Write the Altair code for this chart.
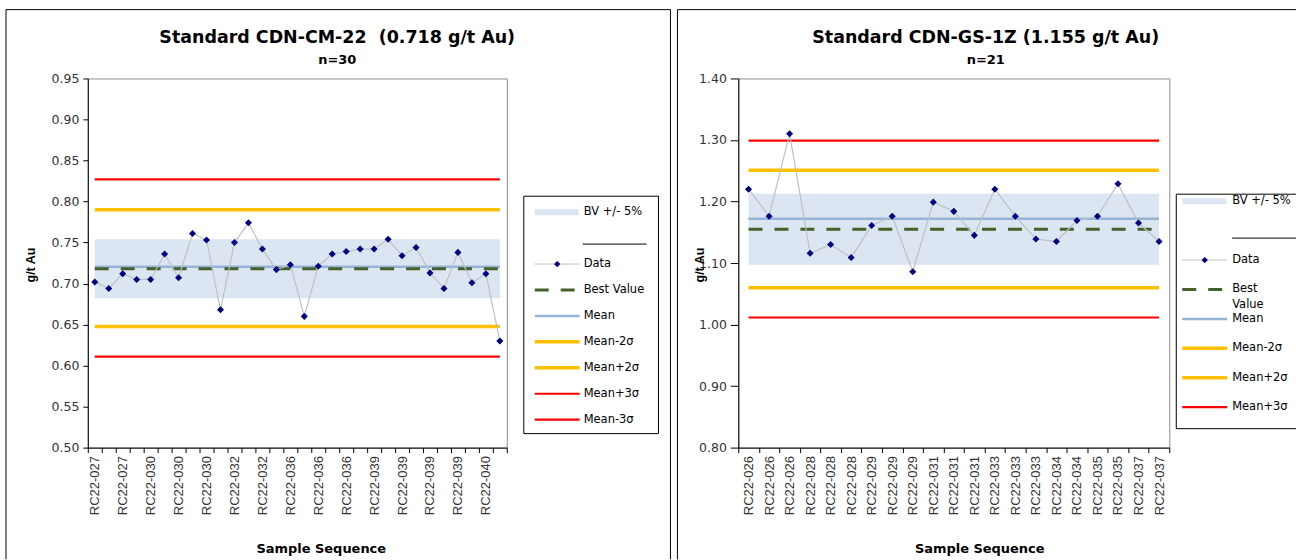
import json
import altair as alt
import pandas as pd

# ---------------- CDN-CM-22 : 30 control results ----------------
cm22_results = [0.702, 0.694, 0.712, 0.705, 0.705, 0.736, 0.707, 0.761, 0.753, 0.668,
                0.750, 0.774, 0.742, 0.717, 0.723, 0.660, 0.721, 0.736, 0.739, 0.742,
                0.742, 0.754, 0.734, 0.744, 0.713, 0.694, 0.738, 0.701, 0.712, 0.630]
# hole IDs printed under every second result
cm22_sample_ids = ["RC22-027", "RC22-027", "RC22-030", "RC22-030", "RC22-030",
                   "RC22-032", "RC22-032", "RC22-036", "RC22-036", "RC22-036",
                   "RC22-039", "RC22-039", "RC22-039", "RC22-039", "RC22-040"]
cm22_best_value = 0.718
cm22_mean = 0.7205
cm22_minus_2sd = 0.6475
cm22_plus_2sd = 0.790
cm22_plus_3sd = 0.827
cm22_minus_3sd = 0.611
cm22_y_ticks = [0.50, 0.55, 0.60, 0.65, 0.70, 0.75, 0.80, 0.85, 0.90, 0.95]

# ---------------- CDN-GS-1Z : 21 control results ----------------
gs1z_results = [1.220, 1.176, 1.310, 1.116, 1.130, 1.109, 1.161, 1.176, 1.086, 1.199,
                1.184, 1.145, 1.220, 1.176, 1.139, 1.135, 1.169, 1.176, 1.229, 1.165,
                1.135]
gs1z_sample_ids = ["RC22-026", "RC22-026", "RC22-026", "RC22-028", "RC22-028", "RC22-028",
                   "RC22-029", "RC22-029", "RC22-029", "RC22-031", "RC22-031", "RC22-031",
                   "RC22-033", "RC22-033", "RC22-033", "RC22-034", "RC22-034", "RC22-035",
                   "RC22-035", "RC22-037", "RC22-037"]
gs1z_best_value = 1.155
gs1z_mean = 1.172
gs1z_minus_2sd = 1.060
gs1z_plus_2sd = 1.251
gs1z_plus_3sd = 1.299
gs1z_minus_3sd = 1.0115
gs1z_y_ticks = [0.80, 0.90, 1.00, 1.10, 1.20, 1.30, 1.40]

# ---------------- styling ----------------
FONT = "DejaVu Sans"
ROT_FONT = "Liberation Sans"
TEXT = "#333333"
BAND = "#DCE6F2"
DATA_LINE = "#C0C0C0"
DATA_POINT = "#000080"
PLOT_H = 370
STYLES = {
    "Mean+3σ": dict(color="#FF0000", strokeWidth=2.2),
    "Mean-3σ": dict(color="#FF0000", strokeWidth=2.2),
    "Mean+2σ": dict(color="#FFC000", strokeWidth=3.5),
    "Mean-2σ": dict(color="#FFC000", strokeWidth=3.5),
    "Mean": dict(color="#95B3D7", strokeWidth=2.5),
    "Best Value": dict(color="#44612A", strokeWidth=3, strokeDash=[14, 12]),
}

ONE = alt.Data(values=[{"k": 0}])


def text_layer(txt, x, y, size, bold=False, angle=0, align="center", font=FONT):
    kw = dict(font=font, fontSize=size, color="black", align=align, baseline="middle")
    if bold:
        kw["fontWeight"] = "bold"
    if angle:
        kw["angle"] = angle
    return alt.Chart(ONE).mark_text(**kw).encode(
        x=alt.value(x), y=alt.value(y), text=alt.value(txt))


def hrule(x0, x1, y, **style):
    return alt.Chart(ONE).mark_rule(**style).encode(
        x=alt.value(x0), x2=alt.value(x1), y=alt.value(y))


def vrule(x, y0, y1, **style):
    return alt.Chart(ONE).mark_rule(**style).encode(
        x=alt.value(x), y=alt.value(y0), y2=alt.value(y1))


def panel(results, sample_ids, label_every, levels, best, y_ticks, title, subtitle,
          width, lay):
    n = len(results)
    df = pd.DataFrame({"seq": list(range(1, n + 1)), "au": results})

    xs = alt.Scale(domain=[0.5, n + 0.5], nice=False, zero=False)
    ys = alt.Scale(domain=[y_ticks[0], y_ticks[-1]], nice=False, zero=False)
    ids = json.dumps(sample_ids)
    if label_every == 2:
        label_expr = f"datum.value % 2 == 1 ? {ids}[(datum.value - 1) / 2] : ''"
    else:
        label_expr = f"datum.value % 1 == 0 ? {ids}[datum.value - 1] : ''"
    # ticks on category boundaries, labels on category centres
    x_values = [k / 2 for k in range(1, 2 * n + 2)]
    x_axis = alt.Axis(values=x_values, labelExpr=label_expr, labelAngle=270,
                      labelOverlap=False, labelFlush=False, labelBound=False,
                      tickOpacity={"condition": {"test": "datum.value % 1 != 0", "value": 1},
                                   "value": 0},
                      tickSize=5, tickColor="black", domainColor="black",
                      labelFont=ROT_FONT, labelFontSize=13, labelColor=TEXT,
                      labelPadding=3, grid=False, title=None)
    y_axis = alt.Axis(values=y_ticks, format=".2f", tickSize=lay["ytick"],
                      tickColor="black", domainColor="black", labelFont=FONT,
                      labelFontSize=12.5, labelColor=TEXT, labelPadding=lay["ypad"],
                      grid=False, title=None)

    def X(**kw):
        return alt.X(type="quantitative", scale=xs, axis=x_axis, **kw)

    def Y(**kw):
        return alt.Y(type="quantitative", scale=ys, axis=y_axis, **kw)

    layers = []
    # best value +/- 5 % band
    layers.append(alt.Chart(ONE).mark_rect(color=BAND).encode(
        x=X(datum=1), x2=alt.X2(datum=n),
        y=Y(datum=best * 0.95), y2=alt.Y2(datum=best * 1.05)))
    # control limits, mean and best value
    for name, value in levels:
        layers.append(alt.Chart(ONE).mark_rule(strokeCap="butt", **STYLES[name]).encode(
            x=X(datum=1), x2=alt.X2(datum=n), y=Y(datum=value)))
    # results
    layers.append(alt.Chart(df).mark_line(color=DATA_LINE, strokeWidth=1.2).encode(
        x=X(field="seq"), y=Y(field="au")))
    layers.append(alt.Chart(df).mark_point(shape="diamond", filled=True, opacity=1,
                                           color=DATA_POINT, size=50).encode(
        x=X(field="seq"), y=Y(field="au")))

    # outer frame of the panel
    fl, ft, fr, fb = lay["frame"]
    frame = dict(color="black", strokeWidth=1)
    layers.append(hrule(fl, fr, ft, **frame))
    layers.append(vrule(fl, ft, fb, **frame))
    if lay["frame_right"]:
        layers.append(vrule(fr, ft, fb, **frame))

    # titles
    cx = lay["title_x"]
    layers.append(text_layer(title, cx, -41, 17.5, bold=True))
    layers.append(text_layer(subtitle, cx, -19, 13, bold=True))
    layers.append(text_layer("Sample Sequence", lay["xtitle_x"], 472, 13, bold=True))
    layers.append(text_layer("g/t Au", lay["ytitle_x"], 187, 12.5, bold=True,
                             angle=270, font=ROT_FONT))

    # legend
    bl, bt, br, bb = lay["box"]
    if lay["box_closed"]:
        layers.append(alt.Chart(ONE).mark_rect(fill="white", stroke="black", strokeWidth=1)
                      .encode(x=alt.value(bl), x2=alt.value(br), y=alt.value(bt),
                              y2=alt.value(bb)))
    else:
        layers.append(hrule(bl, br, bt, **frame))
        layers.append(hrule(bl, br, bb, **frame))
        layers.append(vrule(bl, bt, bb, **frame))
    s0, s1 = lay["sym"]
    tx = lay["text_x"]
    lsize = 11.5
    layers.append(hrule(s0, s1 - 1, lay["band_y"], color=BAND, strokeWidth=6, strokeCap="butt"))
    layers.append(text_layer("BV +/- 5%", tx, lay["band_y"], lsize, align="left"))
    b0, b1, by = lay["blank"]
    layers.append(hrule(b0, b1, by, color="black", strokeWidth=1))

    y0, step = lay["rows"]
    entries = ["Data"] + [name for name in lay["legend_order"]]
    for i, name in enumerate(entries):
        ry = y0 + step * i
        if name == "Data":
            layers.append(hrule(s0, s1, ry, color=DATA_LINE, strokeWidth=1))
            layers.append(alt.Chart(ONE).mark_point(shape="diamond", filled=True, opacity=1,
                                                    color=DATA_POINT, size=40).encode(
                x=alt.value((s0 + s1) / 2), y=alt.value(ry)))
        else:
            layers.append(hrule(s0, s1, ry, strokeCap="butt", **STYLES[name]))
        if name == "Best Value" and lay["wrap_best"]:
            layers.append(text_layer("Best", tx, ry, lsize, align="left"))
            layers.append(text_layer("Value", tx, ry + 16, lsize, align="left"))
        else:
            layers.append(text_layer(name, tx, ry, lsize, align="left"))

    return alt.layer(*layers).properties(width=width, height=PLOT_H)


cm22_levels = [("Mean+3σ", cm22_plus_3sd), ("Mean-3σ", cm22_minus_3sd),
               ("Mean+2σ", cm22_plus_2sd), ("Mean-2σ", cm22_minus_2sd),
               ("Mean", cm22_mean), ("Best Value", cm22_best_value)]
gs1z_levels = [("Mean+3σ", gs1z_plus_3sd), ("Mean-3σ", gs1z_minus_3sd),
               ("Mean+2σ", gs1z_plus_2sd), ("Mean-2σ", gs1z_minus_2sd),
               ("Mean", gs1z_mean), ("Best Value", gs1z_best_value)]

left = panel(
    cm22_results, cm22_sample_ids, 2, cm22_levels, cm22_best_value, cm22_y_ticks,
    "Standard CDN-CM-22 \u00a0(0.718 g/t Au)", "n=30", 420,
    dict(frame=(-82, -69, 584, 482), frame_right=True, title_x=250, xtitle_x=234,
         ytitle_x=-57, ytick=5, ypad=4,
         box=(437, 118, 572, 356), box_closed=True, sym=(448, 493), text_x=497,
         band_y=134, blank=(496, 560, 166), rows=(186, 26),
         legend_order=["Best Value", "Mean", "Mean-2σ", "Mean+2σ", "Mean+3σ", "Mean-3σ"],
         wrap_best=False))

right = panel(
    gs1z_results, gs1z_sample_ids, 1, gs1z_levels, gs1z_best_value, gs1z_y_ticks,
    "Standard CDN-GS-1Z (1.155 g/t Au)", "n=21", 432,
    dict(frame=(-61, -69, 559, 482), frame_right=False, title_x=248, xtitle_x=242,
         ytitle_x=-38, ytick=8, ypad=4,
         box=(439, 116, 559, 351), box_closed=False, sym=(445, 490), text_x=495,
         band_y=123, blank=(495, 559, 160), rows=(182, 29.5),
         legend_order=["Best Value", "Mean", "Mean-2σ", "Mean+2σ", "Mean+3σ"],
         wrap_best=True))

chart = alt.hconcat(left, right, spacing=5).properties(
    padding={"left": 5, "top": 8, "right": 0, "bottom": 0},
    background="white",
).configure_view(stroke="#8C8C8C", strokeWidth=1)

chart.save("out.html", embed_options={"renderer": "svg", "actions": False})
